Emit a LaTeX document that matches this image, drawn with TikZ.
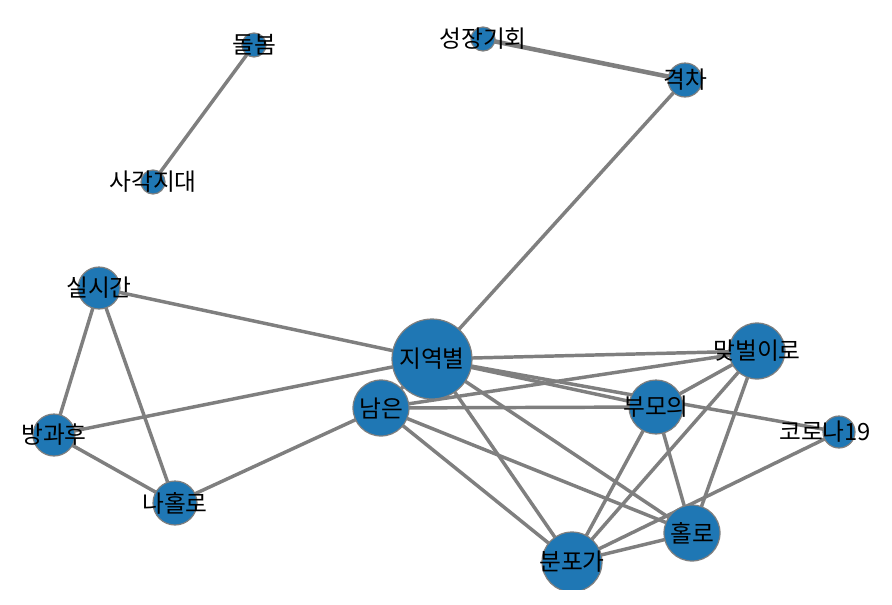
\documentclass[tikz,border=0pt]{standalone}
\usepackage{fontspec}
\usetikzlibrary{calc}
\newfontfamily\krfont{Noto Sans CJK KR}
\definecolor{nodeblue}{HTML}{1F77B4}
\definecolor{edgegray}{HTML}{7F7F7F}
\begin{document}
\begin{tikzpicture}[x=0.75pt,y=-0.75pt,
  nd/.style={circle, fill=nodeblue, draw=edgegray, line width=0.9pt, inner sep=0pt, minimum size=#1*1.5pt},
  lbl/.style={font=\krfont\fontsize{17.8}{19}\selectfont, text=black, inner sep=0pt},
  edge/.style={draw=edgegray, line width=2.6pt},
  thickedge/.style={draw=edgegray, line width=3.4pt}]
\useasboundingbox (0,0) rectangle (892,604);
\begin{scope}
\clip (0,0) rectangle (878,589);
% node positions
\coordinate (dolbom) at (254,45);
\coordinate (sagak) at (153,182);
\coordinate (seong) at (483,39);
\coordinate (gyeok) at (685,80);
\coordinate (silsi) at (99,288);
\coordinate (banggwa) at (54,435);
\coordinate (nahol) at (175,503);
\coordinate (jiyeok) at (432,359);
\coordinate (nameun) at (381,408);
\coordinate (bumo) at (656,407);
\coordinate (matbeol) at (757,351);
\coordinate (corona) at (839,432);
\coordinate (hollo) at (692,533);
\coordinate (bunpo) at (572,562);
% edges
\draw[edge] (dolbom) -- (sagak);
\draw[thickedge] (seong) -- (gyeok);
\draw[edge] (gyeok) -- (jiyeok);
\draw[edge] (silsi) -- (jiyeok);
\draw[edge] (silsi) -- (banggwa);
\draw[edge] (silsi) -- (nahol);
\draw[edge] (banggwa) -- (jiyeok);
\draw[edge] (banggwa) -- (nahol);
\draw[edge] (nahol) -- (nameun);
\draw[edge] (jiyeok) -- (nameun);
\draw[edge] (jiyeok) -- (matbeol);
\draw[edge] (jiyeok) -- (bumo);
\draw[edge] (jiyeok) -- (corona);
\draw[edge] (jiyeok) -- (bunpo);
\draw[edge] (jiyeok) -- (hollo);
\draw[edge] (nameun) -- (matbeol);
\draw[edge] (nameun) -- (bumo);
\draw[edge] (nameun) -- (hollo);
\draw[edge] (nameun) -- (bunpo);
\draw[edge] (bumo) -- (matbeol);
\draw[edge] (bumo) -- (bunpo);
\draw[edge] (bumo) -- (hollo);
\draw[edge] (matbeol) -- (bunpo);
\draw[edge] (matbeol) -- (hollo);
\draw[edge] (bunpo) -- (hollo);
\draw[edge] (bunpo) -- (corona);
% node discs
\foreach \n/\r in {dolbom/12,sagak/12,seong/12,gyeok/17,silsi/21,banggwa/21,nahol/22,jiyeok/40,nameun/28,bumo/27,matbeol/28,corona/16,hollo/28,bunpo/30}{
  \node[nd=\r] (disc-\n) at (\n) {};
}
% labels
\node[lbl] (tdolbom) at (dolbom) {돌봄};
\node[lbl] (tsagak) at (sagak) {사각지대};
\node[lbl] (tseong) at (seong) {성장기회};
\node[lbl] (tgyeok) at (gyeok) {격차};
\node[lbl] (tsilsi) at (silsi) {실시간};
\node[lbl] (tbanggwa) at (banggwa) {방과후};
\node[lbl] (tnahol) at (nahol) {나홀로};
\node[lbl] (tjiyeok) at (jiyeok) {지역별};
\node[lbl] (tnameun) at (nameun) {남은};
\node[lbl] (tbumo) at (bumo) {부모의};
\node[lbl] (tmatbeol) at (matbeol) {맞벌이로};
\node[lbl, anchor=west] (tcorona) at ($(corona)+(-60,0)$) {코로나19};
\node[lbl] (thollo) at (hollo) {홀로};
\node[lbl] (tbunpo) at (bunpo) {분포가};
\end{scope}
\end{tikzpicture}
\end{document}
